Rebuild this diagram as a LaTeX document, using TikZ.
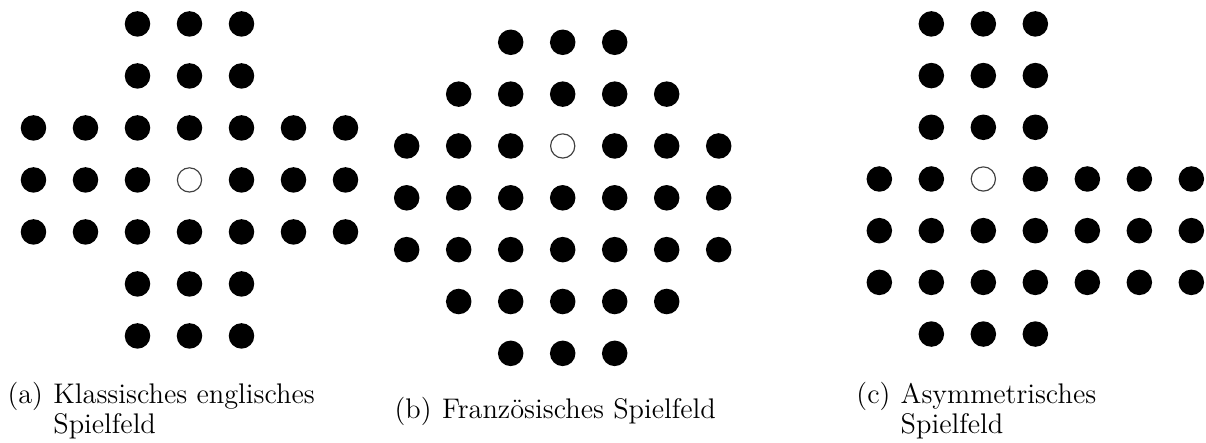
\documentclass[tikz,border=0pt]{standalone}
\usepackage{tikz}

\begin{document}
\begin{tikzpicture}[x=0.709cm,y=-0.709cm, every node/.style={font=\fontsize{11pt}{11.7pt}\selectfont},
    peg/.style={circle,fill=black,inner sep=0pt,minimum size=9.9pt},
    hole/.style={circle,draw=black!75,line width=0.45pt,fill=white,inner sep=0pt,minimum size=9.4pt}]
  \useasboundingbox (0,0) rectangle (23.192,8.519);

  % englisches Brett
  \foreach \r/\lo/\hi in {0/2/4,1/2/4,2/0/6,3/0/2,3/4/6,4/0/6,5/2/4,6/2/4}
    \foreach \c in {\lo,...,\hi}
      \node[peg] (a-\c-\r) at (0.644+\c,0.46+\r) {};
  \node[hole] (a-3-3) at (3.644,3.46) {};

  % franzoesisches Brett
  \foreach \r/\lo/\hi in {0/2/4,1/1/5,2/0/2,2/4/6,3/0/6,4/0/6,5/1/5,6/2/4}
    \foreach \c in {\lo,...,\hi}
      \node[peg] (b-\c-\r) at (7.821+\c,0.813+0.997*\r) {};
  \node[hole] (b-3-2) at (10.821,2.807) {};

  % asymmetrisches Brett
  \foreach \r/\lo/\hi in {0/1/3,1/1/3,2/1/3,3/0/1,3/3/6,4/0/6,5/0/6,6/1/3}
    \foreach \c in {\lo,...,\hi}
      \node[peg] (c-\c-\r) at (16.91+\c,0.46+0.994*\r) {};
  \node[hole] (c-2-3) at (18.91,3.442) {};

  \node[anchor=base west,inner sep=0pt] (capa) at (0.135,7.75)
    {\begin{tabular}[t]{@{}l@{\hspace{4pt}}l@{}}(a)&Klassisches englisches\\&Spielfeld\end{tabular}};
  \node[anchor=base west,inner sep=0pt] (capb) at (7.58,8.04)
    {(b)\hspace{4pt}Französisches Spielfeld};
  \node[anchor=base west,inner sep=0pt] (capc) at (16.46,7.75)
    {\begin{tabular}[t]{@{}l@{\hspace{4pt}}l@{}}(c)&Asymmetrisches\\&Spielfeld\end{tabular}};
\end{tikzpicture}
\end{document}
